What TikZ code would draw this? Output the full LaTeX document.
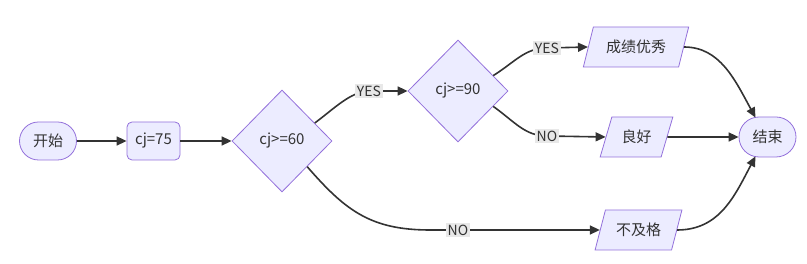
\documentclass[tikz,border=0pt]{standalone}
\usepackage{fontspec}
\setmainfont{Noto Sans CJK SC}
\usetikzlibrary{shapes.geometric,shapes.misc,arrows.meta,calc}
\definecolor{nfill}{HTML}{ECECFF}
\definecolor{nstroke}{HTML}{9370DB}
\definecolor{edgec}{HTML}{333333}
\definecolor{lblbg}{HTML}{E8E8E8}
\begin{document}
\begin{tikzpicture}[x=1pt,y=-1pt,
 base/.style={draw=nstroke,fill=nfill,line width=0.8pt,text=edgec,font=\fontsize{15}{17}\selectfont,inner sep=0pt},
 term/.style={base,rounded rectangle,minimum width=57pt,minimum height=38pt},
 proc/.style={base,rectangle,rounded corners=5pt,minimum width=53pt,minimum height=38pt},
 dec/.style={base,diamond,minimum width=100pt,minimum height=102pt},
 io/.style={base,trapezium,trapezium left angle=63,trapezium right angle=117,trapezium stretches=true,minimum height=40pt},
 flow/.style={draw=edgec,line width=1.6pt,-{Triangle[length=10pt,width=9pt]}},
 lbl/.style={fill=lblbg,text=edgec,font=\fontsize{14}{16}\selectfont,inner sep=1.5pt}
]
\useasboundingbox (0,0) rectangle (807,264);
\node[term] (start) at (48,141) {开始};
\node[proc] (cj) at (153.5,141) {cj=75};
\node[dec] (d60) at (282,141) {cj>=60};
\node[dec] (d90) at (458,91) {cj>=90};
\node[io,minimum width=106pt] (ex) at (636,47) {成绩优秀};
\node[io,minimum width=73pt] (gd) at (636.5,137) {良好};
\node[io,minimum width=87pt] (fl) at (638.5,230) {不及格};
\node[term,minimum height=40pt] (end) at (767.5,137) {结束};

\coordinate (l1) at (369,91);
\coordinate (l2) at (547,48);
\coordinate (l3) at (547,136);
\coordinate (l4) at (458,230);

\draw[flow] (start) -- (cj);
\draw[flow] (cj) -- (d60);
\draw[flow] ($(d60.east)!0.35!(d60.north)$) .. controls (335,108) and (350,92) .. (l1) -- (d90.west);
\draw[flow] ($(d90.east)!0.3!(d90.north)$) .. controls (515,62) and (525,48) .. (l2) -- (ex.west);
\draw[flow] ($(d90.east)!0.3!(d90.south)$) .. controls (515,122) and (525,136) .. (l3) -- (gd.west);
\draw[flow] ($(d60.east)!0.5!(d60.south)$) .. controls (345,210) and (370,230) .. (430,230) -- (l4) -- (fl.west);
\draw[flow] (ex.east) .. controls (720,47) and (735,80) .. ($(end.north)+(-12,1)$);
\draw[flow] (gd.east) -- (end.west);
\draw[flow] (fl.east) .. controls (720,230) and (735,195) .. ($(end.south)+(-12,-1)$);

\node[lbl] (t1) at (l1) {YES};
\node[lbl] (t2) at (l2) {YES};
\node[lbl] (t3) at (l3) {NO};
\node[lbl] (t4) at (l4) {NO};
\end{tikzpicture}
\end{document}
